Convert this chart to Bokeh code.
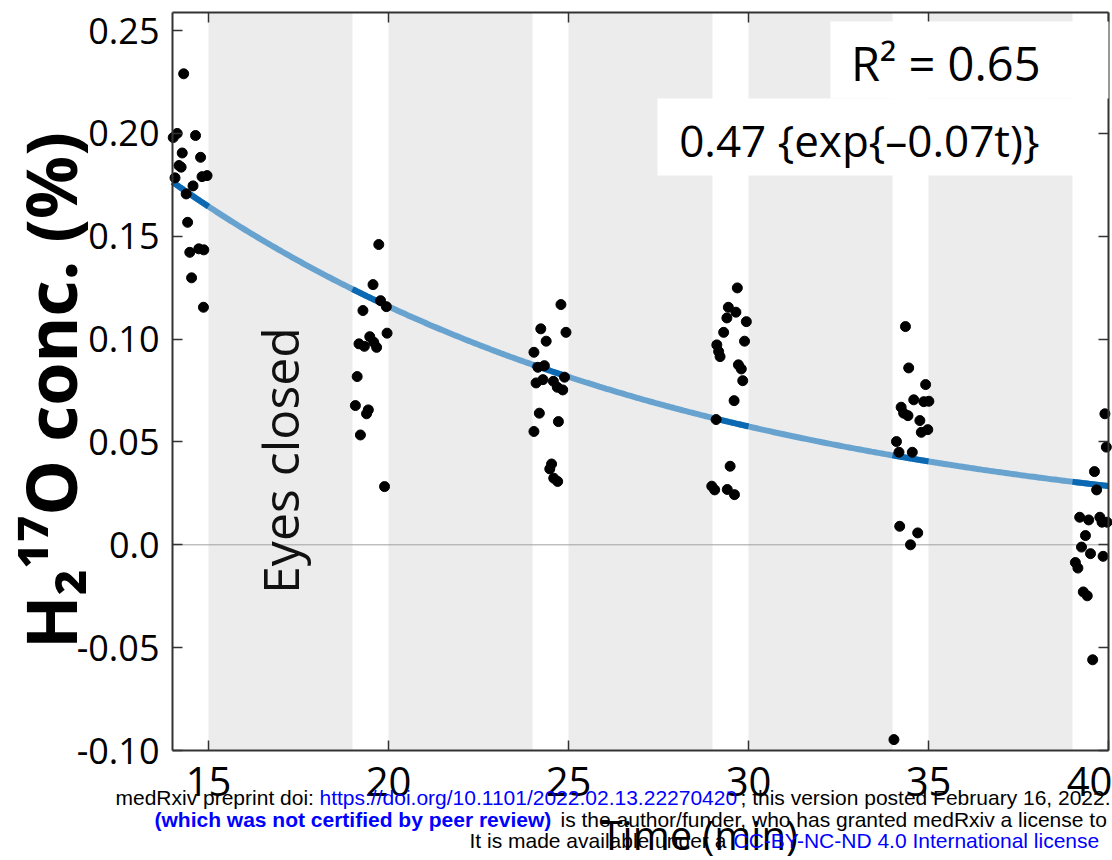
import numpy as np
from bokeh.plotting import figure
from bokeh.models import (BoxAnnotation, Label, LinearAxis, FixedTicker,
                          CustomJSTickFormatter, Range1d)
from bokeh.embed import file_html
from bokeh.resources import INLINE

# H2-17O concentration (%) per acquisition window; times jittered within each window (min)
t_w1 = [14.31, 14.02, 14.13, 14.64, 14.27, 14.78, 14.18, 14.24, 14.07, 14.82,
        14.96, 14.57, 14.38, 14.42, 14.48, 14.73, 14.87, 14.53, 14.86]
c_w1 = [0.229, 0.198, 0.200, 0.199, 0.1905, 0.1884, 0.1844, 0.1836, 0.1784, 0.179,
        0.1795, 0.1745, 0.1706, 0.1568, 0.1422, 0.1439, 0.1434, 0.1298, 0.1155]

t_w2 = [19.73, 19.57, 19.78, 19.94, 19.29, 19.96, 19.18, 19.33, 19.48, 19.59,
        19.67, 19.13, 19.08, 19.44, 19.39, 19.22, 19.89]
c_w2 = [0.146, 0.1265, 0.1187, 0.1158, 0.1139, 0.1029, 0.0977, 0.0965, 0.1012, 0.0985,
        0.096, 0.0818, 0.0677, 0.0656, 0.0637, 0.0534, 0.0283]

t_w3 = [24.79, 24.23, 24.93, 24.38, 24.04, 24.15, 24.33, 24.89, 24.10, 24.29,
        24.58, 24.69, 24.84, 24.19, 24.72, 24.04, 24.53, 24.48, 24.59, 24.70]
c_w3 = [0.1168, 0.105, 0.1033, 0.099, 0.0936, 0.0863, 0.0871, 0.0815, 0.0787, 0.0803,
        0.0795, 0.0766, 0.0753, 0.064, 0.0599, 0.0551, 0.0393, 0.0369, 0.0324, 0.0308]

t_w4 = [29.69, 29.44, 29.65, 29.40, 29.94, 29.31, 29.89, 29.12, 29.17, 29.21,
        29.72, 29.80, 29.84, 29.60, 29.10, 29.49, 28.98, 29.06, 29.41, 29.61]
c_w4 = [0.1249, 0.1155, 0.1131, 0.1103, 0.1085, 0.1033, 0.0990, 0.0972, 0.0940, 0.0915,
        0.0875, 0.0855, 0.0798, 0.0701, 0.0609, 0.0382, 0.0285, 0.0267, 0.0269, 0.0244]

t_w5 = [34.36, 34.45, 34.92, 34.59, 34.87, 35.01, 34.24, 34.31, 34.43, 34.76,
        34.80, 34.98, 34.11, 34.18, 34.55, 34.20, 34.70, 34.50, 34.04]
c_w5 = [0.1061, 0.086, 0.0779, 0.0705, 0.0696, 0.0698, 0.0669, 0.064, 0.0628, 0.0604,
        0.0547, 0.056, 0.0502, 0.045, 0.045, 0.009, 0.0058, 0.0, -0.0947]

t_w6 = [39.90, 39.94, 39.61, 39.67, 39.20, 39.45, 39.76, 39.82, 39.96, 39.36,
        39.25, 39.50, 39.85, 39.08, 39.15, 39.30, 39.41, 39.56]
c_w6 = [0.0637, 0.0475, 0.0356, 0.0267, 0.0134, 0.0121, 0.0134, 0.011, 0.011, 0.0045,
        -0.0011, -0.0043, -0.0056, -0.0086, -0.0113, -0.0229, -0.0248, -0.0559]

# eyes-closed periods (min)
closed_start = [15, 20, 25, 30, 35]
closed_end = [19, 24, 29, 34, 39]

# acquisition windows where the fit is highlighted (min)
window_start = [14, 19, 24, 29, 34, 39]
window_end = [15, 20, 25, 30, 35, 40]

# exponential fit  A * exp(-k t)
fit_A = 0.47
fit_k = 0.07
fit_r2 = 0.65

x_ticks = [15, 20, 25, 30, 35, 40]
y_ticks = [-0.10, -0.05, 0.0, 0.05, 0.10, 0.15, 0.20, 0.25]

# axes box limits (data) and where the box sits on the 1112 x 860 canvas (pixels)
X_LO, X_HI = 14.0, 40.0
Y_LO, Y_HI = -0.10, 0.2588
W, H = 1112, 860
BOX_L, BOX_R, BOX_T, BOX_B = 172, 1108, 12, 750

sx = (X_HI - X_LO) / (BOX_R - BOX_L)
sy = (Y_HI - Y_LO) / (BOX_B - BOX_T)

# the frame spans the whole canvas so that titles and notes below the axes stay visible
p = figure(width=W, height=H,
           x_range=Range1d(X_LO - BOX_L * sx, X_HI + (W - BOX_R) * sx),
           y_range=Range1d(Y_LO - (H - BOX_B) * sy, Y_HI + BOX_T * sy),
           output_backend="svg", toolbar_location=None, min_border=0,
           background_fill_color="white", border_fill_color="white",
           x_axis_type=None, y_axis_type=None)
p.grid.visible = False
p.outline_line_color = None
p.title.visible = False

axis_color = "#333333"


def box_axis(ticks, bounds, loc, **kw):
    return LinearAxis(ticker=FixedTicker(ticks=ticks), bounds=bounds, fixed_location=loc,
                      major_tick_in=10, major_tick_out=0, minor_tick_line_color=None,
                      axis_line_color=axis_color, axis_line_width=2,
                      major_tick_line_color=axis_color, major_tick_line_width=1.5, **kw)


bottom = box_axis(x_ticks, (X_LO, X_HI), Y_LO, major_label_text_font="Open Sans",
                  major_label_text_font_size="40px", major_label_text_color="black",
                  major_label_standoff=16)
left = box_axis(y_ticks, (Y_LO, Y_HI), X_LO, major_label_text_font="Open Sans",
                major_label_text_font_size="36px", major_label_text_color="black",
                major_label_standoff=13,
                formatter=CustomJSTickFormatter(code="return tick == 0 ? '0.0' : tick.toFixed(2);"))
# mirrored inward ticks on the top and right edges, without labels
top = box_axis(x_ticks, (X_LO, X_HI), Y_HI, major_label_text_color=None)
right = box_axis(y_ticks, (Y_LO, Y_HI), X_HI, major_label_text_color=None)
p.add_layout(bottom, "below")
p.add_layout(left, "left")
p.add_layout(top, "above")
p.add_layout(right, "right")

# shaded eyes-closed periods
for s, e in zip(closed_start, closed_end):
    p.add_layout(BoxAnnotation(left=s, right=e, top=Y_HI, bottom=Y_LO, fill_color="#ececec",
                               fill_alpha=1.0, line_color=None, level="underlay"))
# zero reference line
p.line([X_LO, X_HI], [0, 0], line_color="#a0a0a0", line_width=1)

# fitted curve, darker over the acquisition windows
t_fit = np.linspace(X_LO, X_HI, 400)
p.line(t_fit, fit_A * np.exp(-fit_k * t_fit), line_color="#68a3d0", line_width=6)
for s, e in zip(window_start, window_end):
    ts = np.linspace(s, e, 40)
    p.line(ts, fit_A * np.exp(-fit_k * ts), line_color="#0b69b3", line_width=6)

for tx, cy in ((t_w1, c_w1), (t_w2, c_w2), (t_w3, c_w3), (t_w4, c_w4), (t_w5, c_w5), (t_w6, c_w6)):
    p.scatter(tx, cy, size=10, color="black")


def cx(px):
    return X_LO + (px - BOX_L) * sx


def cy(py):
    return Y_LO + (BOX_B - py) * sy


# fit annotation on white panels
p.add_layout(BoxAnnotation(left=cx(830), right=X_HI, top=cy(21), bottom=cy(98),
                           fill_color="white", fill_alpha=1.0, line_color=None))
p.add_layout(BoxAnnotation(left=cx(657), right=cx(1075), top=cy(98), bottom=cy(175),
                           fill_color="white", fill_alpha=1.0, line_color=None))
p.add_layout(Label(x=cx(1040), y=cy(62), text=f"R\u00b2 = {fit_r2:.2f}", text_align="right",
                   text_baseline="middle", text_font="Open Sans", text_font_size="47px",
                   text_color="black"))
p.add_layout(Label(x=cx(1039), y=cy(139), text=f"{fit_A:.2f} {{exp{{\u2013{fit_k:.2f}t)}}",
                   text_align="right", text_baseline="middle", text_font="Open Sans",
                   text_font_size="44px", text_color="black"))

p.add_layout(Label(x=cx(279), y=cy(460), text="Eyes closed", angle=np.pi / 2,
                   text_align="center", text_baseline="middle", text_font="Open Sans",
                   text_font_size="50px", text_color="#111111"))

# axis titles
p.add_layout(Label(x=49, y=H - 390, x_units="screen", y_units="screen",
                   text="H\u2082\u00b9\u2077O conc. (%)", angle=np.pi / 2,
                   text_align="center", text_baseline="middle", text_font="Noto Sans",
                   text_font_style="bold", text_font_size="70px", text_color="black"))
p.add_layout(Label(x=600, y=H - 834, x_units="screen", y_units="screen",
                   text="Time (min)", text_align="left", text_baseline="middle",
                   text_font="Open Sans", text_font_size="40px", text_color="black"))

# preprint notice along the bottom
BLUE = "#0000ff"
notice = [
    (115, 797, "medRxiv preprint doi:", "black", "normal"),
    (319, 797, "https://doi.org/10.1101/2022.02.13.22270420", BLUE, "normal"),
    (740, 797, "; this version posted February 16, 2022. The copyright holder for this preprint", "black", "normal"),
    (154, 819, "(which was not certified by peer review)", BLUE, "bold"),
    (560, 819, "is the author/funder, who has granted medRxiv a license to display the preprint in perpetuity.", "black", "normal"),
    (469, 840, "It is made available under a", "black", "normal"),
    (733, 840, "CC-BY-NC-ND 4.0 International license", BLUE, "normal"),
]
for px, py, txt, col, style in notice:
    p.add_layout(Label(x=px, y=H - py, x_units="screen", y_units="screen",
                       text=txt, text_align="left", text_baseline="middle",
                       text_font="Liberation Sans", text_font_style=style,
                       text_font_size="21px", text_color=col))

open("out.html", "w").write(file_html(p, INLINE))
